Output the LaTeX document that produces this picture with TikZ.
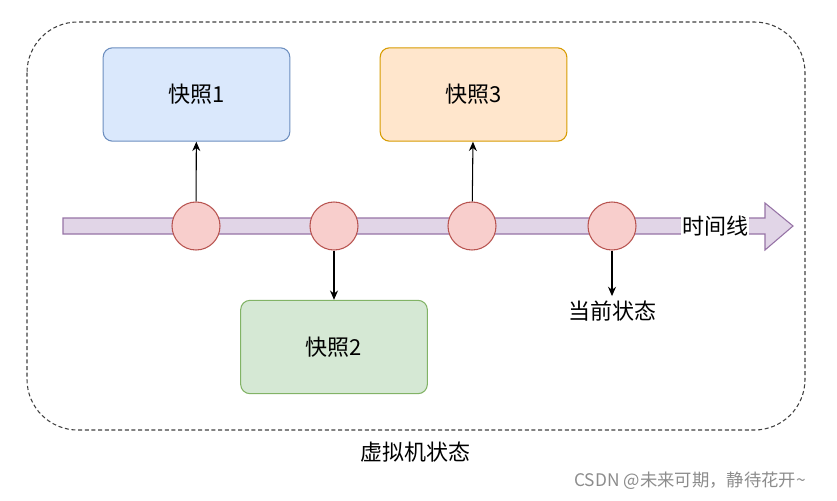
\documentclass[tikz,border=0pt]{standalone}
\usepackage{fontspec}
\setmainfont{Noto Sans CJK SC}
\usetikzlibrary{arrows.meta}
\definecolor{snapblue}{HTML}{DAE8FC}
\definecolor{snapblueline}{HTML}{6C8EBF}
\definecolor{snapgreen}{HTML}{D5E8D4}
\definecolor{snapgreenline}{HTML}{82B366}
\definecolor{snaporange}{HTML}{FFE6CC}
\definecolor{snaporangeline}{HTML}{D79B00}
\definecolor{linepurple}{HTML}{E1D5E7}
\definecolor{linepurpleline}{HTML}{9673A6}
\definecolor{pointred}{HTML}{F8CECC}
\definecolor{pointredline}{HTML}{B85450}
\begin{document}
\begin{tikzpicture}[
    x=0.75pt, y=-0.75pt,
    font=\fontsize{16.5pt}{20pt}\selectfont,
    snapshot/.style={rectangle, draw, thick, rounded corners=7pt, minimum width=140pt, minimum height=70pt},
    point/.style={circle, draw=pointredline, fill=pointred, thick, minimum size=36pt, inner sep=0pt},
    link/.style={-{Stealth[length=7pt,width=6pt]}, thick}
]
\useasboundingbox (0,0) rectangle (837,500);

% VM boundary
\draw[dash pattern=on 3pt off 2pt, thick, black!75, rounded corners=38pt] (27,22) rectangle (805,430);
\node (vm) at (415,452) {虚拟机状态};

% Timeline
\draw[draw=linepurpleline, fill=linepurple, thick]
    (63,218) -- (765,218) -- (765,203) -- (793,226) -- (765,250) -- (765,234) -- (63,234) -- cycle;
\node[fill=white, inner sep=1pt] (tl) at (715,226) {时间线};

% Points on the timeline
\node[point] (p1) at (196,226) {};
\node[point] (p2) at (334,226) {};
\node[point] (p3) at (472,226) {};
\node[point] (p4) at (612,226) {};

% Snapshots
\node[snapshot, draw=snapblueline, fill=snapblue] (s1) at (196.5,94.5) {快照1};
\node[snapshot, draw=snaporangeline, fill=snaporange] (s3) at (473.5,94.5) {快照3};
\node[snapshot, draw=snapgreenline, fill=snapgreen] (s2) at (334,347) {快照2};
\node (now) at (612,311) {当前状态};

% Arrows
\draw[link] (p1) -- (s1);
\draw[link] (p2) -- (s2);
\draw[link] (p3) -- (s3);
\draw[link] (p4) -- (now);

% Watermark
\node[text=black!45, font=\fontsize{13pt}{16pt}\selectfont] (mark) at (690,481) {CSDN @未来可期，静待花开\textasciitilde};

\end{tikzpicture}
\end{document}
